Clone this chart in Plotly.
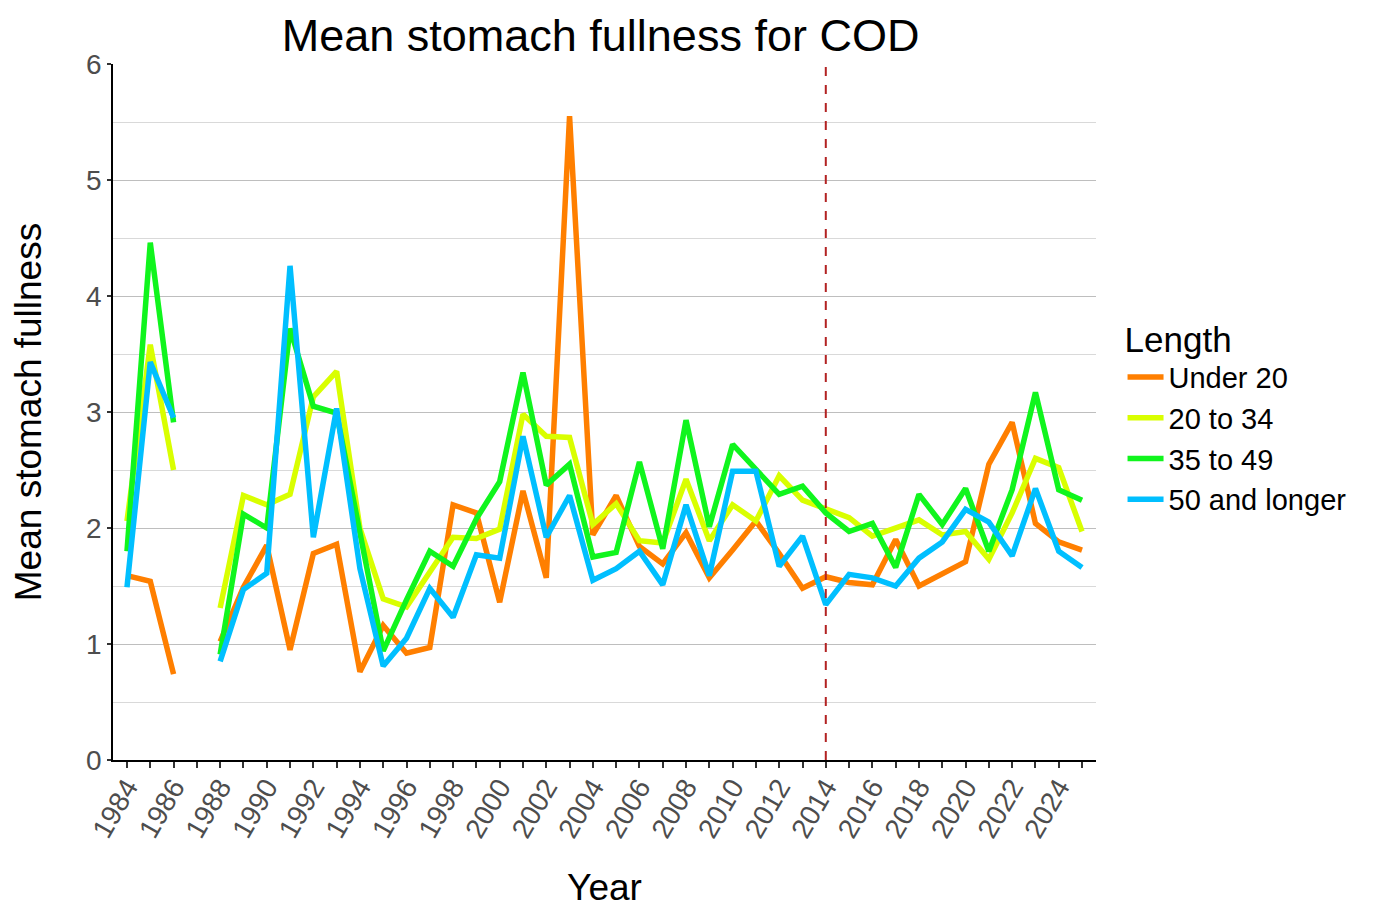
import plotly.graph_objects as go

# Data; 1987 has no samples
years = list(range(1984, 2026))

under_20 = [1.59, 1.54, 0.74, None, 1.02, 1.49, 1.85, 0.95, 1.78, 1.86,
            0.76, 1.16, 0.92, 0.97, 2.20, 2.13, 1.36, 2.32, 1.57, 5.55,
            1.94, 2.28, 1.84, 1.69, 1.96, 1.57, 1.81, 2.06, 1.78, 1.48,
            1.58, 1.53, 1.51, 1.90, 1.50, 1.61, 1.71, 2.55, 2.91, 2.04,
            1.88, 1.81]
from_20_to_34 = [2.06, 3.58, 2.50, None, 1.31, 2.28, 2.20, 2.29, 3.13, 3.35,
                 2.00, 1.39, 1.32, 1.62, 1.92, 1.91, 1.99, 2.98, 2.79, 2.78,
                 2.03, 2.21, 1.89, 1.87, 2.42, 1.89, 2.20, 2.06, 2.45, 2.24,
                 2.16, 2.09, 1.93, 2.00, 2.07, 1.94, 1.97, 1.73, 2.13, 2.60,
                 2.52, 1.97]
from_35_to_49 = [1.80, 4.46, 2.91, None, 0.91, 2.12, 2.00, 3.72, 3.05, 2.99,
                 1.96, 0.94, 1.38, 1.80, 1.67, 2.08, 2.40, 3.34, 2.37, 2.55,
                 1.75, 1.79, 2.57, 1.82, 2.93, 2.01, 2.72, 2.50, 2.29, 2.36,
                 2.13, 1.97, 2.04, 1.66, 2.29, 2.03, 2.34, 1.80, 2.33, 3.17,
                 2.33, 2.24]
from_50 = [1.49, 3.43, 2.95, None, 0.85, 1.47, 1.61, 4.26, 1.92, 3.03,
           1.65, 0.81, 1.05, 1.48, 1.23, 1.77, 1.74, 2.79, 1.92, 2.28,
           1.55, 1.65, 1.80, 1.51, 2.20, 1.59, 2.49, 2.49, 1.67, 1.93,
           1.34, 1.60, 1.57, 1.50, 1.74, 1.88, 2.16, 2.05, 1.76, 2.34,
           1.80, 1.66]

series_names = ["Under 20", "20 to 34", "35 to 49", "50 and longer"]
series_values = [under_20, from_20_to_34, from_35_to_49, from_50]
colors = ["#FF7F00", "#D9FF00", "#10F51D", "#00BFFF"]

tick_text = [str(y) if y % 2 == 0 else "" for y in years]

fig = go.Figure()

for name, vals, col in zip(series_names, series_values, colors):
    fig.add_trace(go.Scatter(
        x=years, y=vals, name=name, mode="lines",
        line=dict(color=col, width=5.5), connectgaps=False
    ))

# Dashed marker at 2014
fig.add_shape(type="line", x0=2014, x1=2014, y0=0, y1=1, yref="paper",
              line=dict(color="#B22222", width=2, dash="dash"))

font_name = "Liberation Sans, Arial, sans-serif"

fig.update_layout(
    width=1378, height=919,
    paper_bgcolor="white", plot_bgcolor="white",
    margin=dict(l=105, r=290, t=56, b=167),
    font=dict(family=font_name, color="black"),
    title=dict(text="Mean stomach fullness for COD", x=0.43, xanchor="center",
               y=0.97, yanchor="middle", font=dict(size=45, color="black")),
    legend=dict(
        title=dict(text="Length", font=dict(size=35)),
        font=dict(size=29), x=1.027, xanchor="left", y=0.652, yanchor="top",
        tracegroupgap=0, itemwidth=36, bgcolor="rgba(0,0,0,0)"
    ),
    showlegend=True,
)

fig.update_xaxes(
    range=[1983.4, 2025.6], tickmode="array", tickvals=years, ticktext=tick_text,
    tickangle=-60, tickfont=dict(size=28, color="#4D4D4D"),
    ticks="outside", ticklen=6, tickcolor="#333333", tickwidth=1.5,
    ticklabelstandoff=-8,
    showline=True, linecolor="black", linewidth=1.5,
    showgrid=False, zeroline=False,
    title=dict(text="Year", font=dict(size=37), standoff=32),
)

fig.update_yaxes(
    range=[0, 6], tickvals=[0, 1, 2, 3, 4, 5, 6],
    tickfont=dict(size=28, color="#4D4D4D"),
    ticks="outside", ticklen=4, tickcolor="#333333", tickwidth=1.5,
    showline=True, linecolor="black", linewidth=1.5,
    showgrid=True, gridcolor="#BEBEBE", gridwidth=1.3, zeroline=False,
    minor=dict(dtick=0.5, showgrid=True, gridcolor="#D9D9D9", gridwidth=1),
    title=dict(text="Mean stomach fullness", font=dict(size=37), standoff=38),
)

fig.write_html("out.html")
